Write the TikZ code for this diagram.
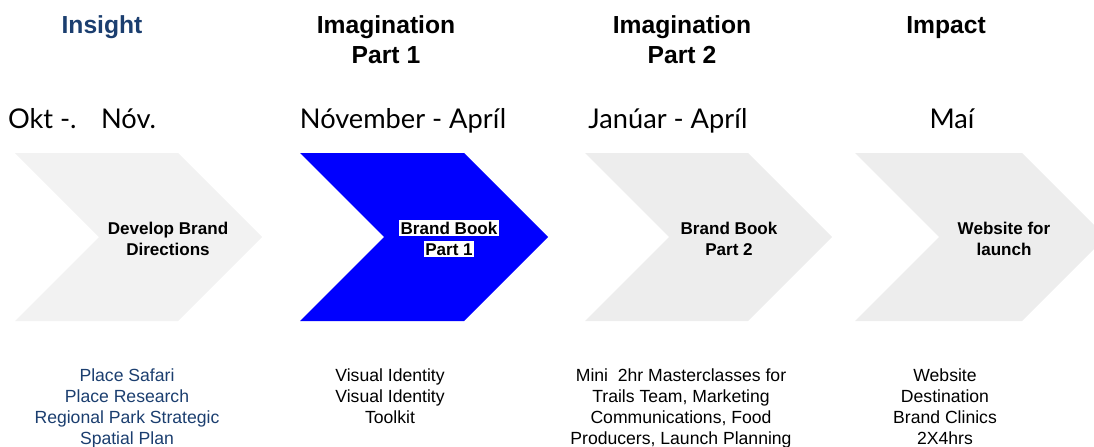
\documentclass[tikz,border=0pt]{standalone}
\usepackage{fontspec}
\setmainfont{Liberation Sans}
\newfontfamily\datefont{Lato}
\definecolor{navy}{HTML}{1B3E6F}
\definecolor{chevgrey}{HTML}{F2F2F2}
\definecolor{chevgreyb}{HTML}{EDEDED}
\definecolor{chevblue}{HTML}{0000FF}
\begin{document}
\begin{tikzpicture}[x=0.75pt,y=-0.75pt,
  head/.style={font=\bfseries\fontsize{18.5}{22.5}\selectfont, align=center, anchor=base, inner sep=0pt},
  datelbl/.style={font=\datefont\fontsize{20.4}{25}\selectfont, anchor=base, inner sep=0pt},
  chevlbl/.style={font=\bfseries\fontsize{12.8}{15.75}\selectfont, align=center, anchor=base, inner sep=0pt},
  hilite/.style={font=\bfseries\fontsize{12.8}{15.75}\selectfont, anchor=base, fill=white, inner xsep=1.2pt, inner ysep=1.5pt},
  detail/.style={font=\fontsize{13.2}{15.75}\selectfont, align=center, anchor=base, inner sep=0pt}]
\useasboundingbox (0,0) rectangle (1094,446);
\clip (0,0) rectangle (1094,446);
% chevrons
\fill[chevgrey]  (15,153) -- (178,153) -- (262,237) -- (178,321) -- (15,321) -- (99,237) -- cycle;
\fill[chevblue]  (300,153) -- (464,153) -- (548,237) -- (464,321) -- (300,321) -- (384,237) -- cycle;
\fill[chevgreyb] (585,153) -- (748,153) -- (832,237) -- (748,321) -- (585,321) -- (669,237) -- cycle;
\fill[chevgreyb] (855,153) -- (1022,153) -- (1106,237) -- (1022,321) -- (855,321) -- (939,237) -- cycle;
% headings (base anchor = baseline of last line)
\node[head, text=navy] (h1) at (102,33) {Insight};
\node[head] (h2) at (386,63) {Imagination\\Part 1};
\node[head] (h3) at (682,63) {Imagination\\Part 2};
\node[head] (h4) at (946,33) {Impact};
% dates
\node[datelbl] (d1) at (82,128) {Okt -.\hspace{0.9em}Nóv.};
\node[datelbl] (d2) at (403,128) {Nóvember - Apríl};
\node[datelbl] (d3) at (668,128) {Janúar - Apríl};
\node[datelbl] (d4) at (952,128) {Maí};
% chevron labels
\node[chevlbl] (c1) at (168,255) {Develop Brand\\Directions};
\node[hilite] (c2a) at (449,234) {Brand Book};
\node[hilite] (c2b) at (449,255) {Part 1};
\node[chevlbl] (c3) at (729,255) {Brand Book\\Part 2};
\node[chevlbl] (c4) at (1004,255) {Website for\\launch};
% details
\node[detail, text=navy] (t1) at (127,444) {Place Safari\\Place Research\\Regional Park Strategic\\Spatial Plan};
\node[detail] (t2) at (390,423) {Visual Identity\\Visual Identity\\Toolkit};
\node[detail] (t3) at (681,444) {Mini\ \ 2hr Masterclasses for\\Trails Team, Marketing\\Communications, Food\\Producers, Launch Planning};
\node[detail] (t4) at (945,444) {Website\\Destination\\Brand Clinics\\2X4hrs};
\end{tikzpicture}
\end{document}
